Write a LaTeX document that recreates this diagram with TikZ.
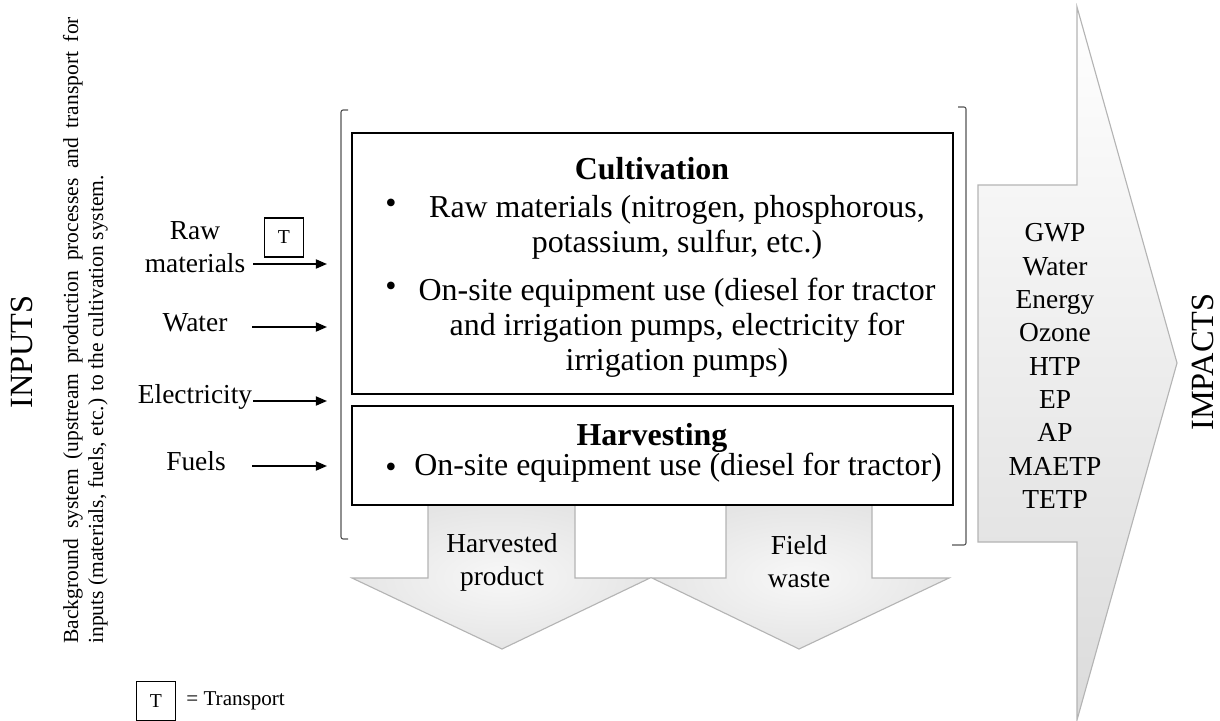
\documentclass[tikz,border=0pt]{standalone}
\usepackage{fontspec}
\setmainfont{Liberation Serif}
\usepackage{xcolor}
\usepackage{tikz}
\usetikzlibrary{arrows.meta, positioning}
\definecolor{arrowgray}{HTML}{B4B4B4}
\definecolor{bracketgray}{HTML}{555555}
\newlength\pxu
\setlength\pxu{0.025cm}
\tikzset{
    stagebox/.style={
        rectangle,
        draw=black,
        line width=1.4pt,
        minimum width=601\pxu,
        inner sep=0pt
    },
    titletext/.style={
        font=\fontsize{22.7}{24.8}\selectfont\bfseries,
        inner sep=0pt,
        anchor=mid
    },
    itemtext/.style={
        font=\fontsize{22.7}{24.8}\selectfont,
        align=center,
        inner sep=0pt
    },
    labeltext/.style={
        font=\fontsize{19.5}{23.4}\selectfont,
        align=center,
        inner sep=0pt
    },
    sidetitle/.style={
        rotate=90,
        font=\fontsize{23}{25}\selectfont,
        inner sep=0pt
    },
    sidenote/.style={
        rotate=90,
        font=\fontsize{15.3}{18}\selectfont,
        inner sep=0pt,
        anchor=mid west
    },
    tbox/.style={
        rectangle,
        draw=black,
        line width=0.9pt,
        minimum width=39\pxu,
        minimum height=39\pxu,
        font=\fontsize{14}{16}\selectfont,
        inner sep=0pt
    },
    inarrow/.style={
        -{Triangle[length=8pt, width=6.5pt]},
        line width=1.3pt
    },
    flowarrow/.style={
        draw=arrowgray,
        line width=0.8pt
    },
    bracket/.style={
        draw=bracketgray,
        line width=0.8pt,
        rounded corners=1.5pt
    }
}

\begin{document}
\begin{tikzpicture}[x=1\pxu, y=-1\pxu]
    \useasboundingbox (0,0) rectangle (1220,721);

    % big impact arrow and output arrows
    \shade[flowarrow, top color=white, bottom color=gray!28]
        (978,185) -- (1077,185) -- (1077,7) -- (1177,363) -- (1077,720)
        -- (1077,542) -- (978,542) -- cycle;
    \shade[flowarrow, inner color=gray!6, outer color=gray!20]
        (428,505) -- (575,505) -- (575,578) -- (650,578) -- (502,649)
        -- (352,578) -- (428,578) -- cycle;
    \shade[flowarrow, inner color=gray!6, outer color=gray!20]
        (726,505) -- (872,505) -- (872,578) -- (949,578) -- (799,649)
        -- (652,578) -- (726,578) -- cycle;

    % system boundary
    \draw[bracket] (348,110) -- (341,110) -- (341,539) -- (348,539);
    \draw[bracket] (958,107) -- (966,107) -- (966,545) -- (952,545);

    % stages
    \node[stagebox, minimum height=261\pxu] (cultivation) at (652.5,263.5) {};
    \node[stagebox, minimum height=99\pxu] (harvesting) at (652.5,455.5) {};

    \node[titletext] (culttitle) at (652,176) {Cultivation};
    \node[itemtext, anchor=mid] (bulleta) at (391,210) {\textbullet};
    \node[itemtext] (itema) at (677,227) {Raw materials (nitrogen, phosphorous,\\potassium, sulfur, etc.)};
    \node[itemtext, anchor=mid] (bulletb) at (391,293) {\textbullet};
    \node[itemtext] (itemb) at (677,328) {On-site equipment use (diesel for tractor\\and irrigation pumps, electricity for\\irrigation pumps)};

    \node[titletext] (harvtitle) at (652,442) {Harvesting};
    \node[itemtext, anchor=mid] (bulletc) at (391,474) {\textbullet};
    \node[itemtext, anchor=mid] (itemc) at (678,472) {On-site equipment use (diesel for tractor)};

    % inputs
    \node[labeltext] (raw) at (195,247) {Raw\\materials};
    \node[labeltext, anchor=mid] (water) at (195,328) {Water};
    \node[labeltext, anchor=mid] (elec) at (195,400) {Electricity};
    \node[labeltext, anchor=mid] (fuels) at (196,467) {Fuels};
    \node[tbox] (transport) at (284,237.5) {T};

    \coordinate (rawin) at (253,264);
    \coordinate (rawout) at (327,264);
    \coordinate (waterin) at (252,327);
    \coordinate (waterout) at (327,327);
    \coordinate (elecin) at (253,401);
    \coordinate (elecout) at (327,401);
    \coordinate (fuelsin) at (252,466);
    \coordinate (fuelsout) at (327,466);
    \draw[inarrow] (rawin) -- (rawout);
    \draw[inarrow] (waterin) -- (waterout);
    \draw[inarrow] (elecin) -- (elecout);
    \draw[inarrow] (fuelsin) -- (fuelsout);

    % outputs
    \node[labeltext] (harvested) at (502,562) {Harvested\\product};
    \node[labeltext] (fieldwaste) at (799,562) {Field\\waste};

    % impacts
    \node[labeltext, font=\fontsize{19.5}{23.7}\selectfont] (impactlist) at (1055,366)
        {GWP\\Water\\Energy\\Ozone\\HTP\\EP\\AP\\MAETP\\TETP};
    \node[sidetitle] (impacts) at (1203,362) {IMPACTS};

    % side notes
    \node[sidetitle] (inputs) at (22,352) {INPUTS};
    \node[sidenote] (notea) at (75,644)
        {\makebox[445.7pt][s]{Background system (upstream production processes and transport for}};
    \node[sidenote] (noteb) at (100,644)
        {inputs (materials, fuels, etc.) to the cultivation system.};

    % legend
    \node[tbox] (legendt) at (156,701) {T};
    \node[font=\fontsize{15}{17}\selectfont, inner sep=0pt, right=10\pxu of legendt] (legendtext) {= Transport};
\end{tikzpicture}
\end{document}
